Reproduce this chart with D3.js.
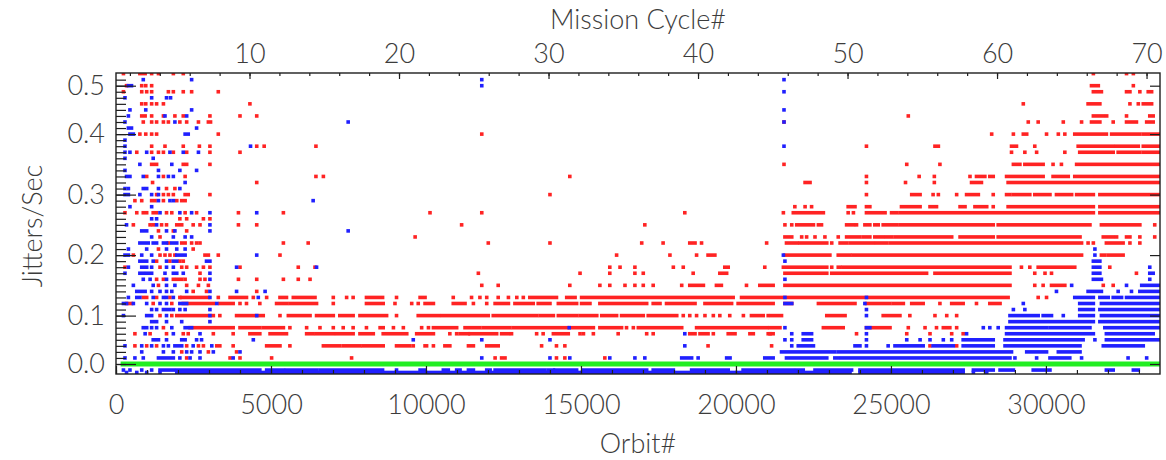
<!DOCTYPE html>
<html><head><meta charset="utf-8">
<script src="https://cdn.jsdelivr.net/npm/d3@7"></script>
<style>
html,body{margin:0;padding:0;background:#fff;}
svg text{font-family:Lato,"DejaVu Sans",sans-serif;font-weight:300;}
</style></head><body>
<svg id="chart" width="1166" height="460"></svg>
<script>
// ---------- axis tick data ----------
const orbitTicks=[0,5000,10000,15000,20000,25000,30000];
const cycleTicks=[10,20,30,40,50,60,70];
const jitterTicks=[0,0.1,0.2,0.3,0.4,0.5];
const jitterLabels=["0.0","0.1","0.2","0.3","0.4","0.5"];

// ---------- red series (jitter levels, single dots, dense runs) ----------
const redLevels=[0.525,0.50,0.4875,0.4625,0.4375,0.425,0.40,0.38,0.37,0.35,0.33,0.32,0.31,0.30,0.29,0.28,0.27,0.26,0.25,0.24,0.23,0.22,0.21,0.20,0.19,0.18,0.17,0.16,0.15,0.14,0.13,0.12,0.10,0.075,0.0625,0.0375,0.025,0.0125];
const redDots=[
 [240,1150,1370,1850,2170,31530,32600,32820],
 [340,830,960,1150,32820],
 [240,830,990,1150,1690,1850,2170,2440,3300,33030],
 [830,960,1150,1310,1530,4320,29270,32710,32980],
 [1150,1530,1900,2170,3030,4000,4540,25560,31960,32600],
 [880,1150,1310,1530,1690,2060,2280,2660,21550,29430,29750,30560,31150,32170],
 [770,960,1150,1310,3300,11800,28250,28950,30020,30400,30610],
 [1150,1580,2170,2690,3030,4540,4780,6450,24210,29640],
 [670,1150,1370,1530,1850,2280,3030,4000,28890,29320,29700,30610],
 [2170,2280,3030,21550,25510,26580,30230,30500],
 [990,1530,2230,6450,6690,14640,24210,25910,26400,27550],
 [1180,4540,24210,25470,26400],
 [1630,1900],
 [1310,1530,1690,1850,3030,14000,24210,26360,26530,27120,28300],
 [610,830,1530,1960],
 [21900,22230,22440,28300],
 [290,670,1630,1800,2230,2600,3950,5400,10130,11800,18350,21530,23620,23790],
 [2060,2280,2820,3030],
 [560,1100,1200,1470,1630,2490,2710,3950,4540,11150,17060,21580,21800,23890,33510],
 [1370,1850,2280],
 [1420,9650,22120,22280,22550,22870,23300,32280,33030,33510],
 [1690,2440,2600,2710,5400,6200,12010,14000,16960,17650,18890,20990,23090,31360,31530,32710,33030],
 [1370,2490],
 [560,1420,1580,1740,1900,3300,5290,16150,17870,18730],
 [1310,1740,2060,2170],
 [290,1420,2120,2280,2600,2820,3030,4000,5880,6420,15930,16260,16740,17980,18300,20930,23090,29210,29480,32060],
 [2710,11690,14970,15930,16740,17010,18620,29640,29970,30180,32920],
 [1310,1530,1850,2230,2710,2870,3950,4540,5400,5880,6260],
 [1370,2280,2660,2980,11800,12330,14640,15610,15930,16420,16740,17010,17330,18250,20340,29640,29910,31850,32170],
 [2490,2920,4540],
 [880,990,1310,1740,2060,3300,4430,4860,7010,7440,7650,9050,10880,11470,11740,11960,12330,12660,12930,13140,29750,30020],
 [1200,1800,4000,4210,4640,7010,9000,9540,9750,11530,11960,26580,27760],
 [1420,1800,3350,5290,9050,18300,18510,18730,19000,19270,19480,19800,20240,21040,25610,26420,26800,27120],
 [1530,5610,6150,6580,7010,7330,7650,8080,8950,9270,9860,10080,16470,16690,25560,26100,26470,27120],
 [610,1100,1630,2170,2330,3140,3780,10770,10990,12760,13570,13780,14970,15080,15400,16200,17120,17330,19270,21100,23890,25510,26260,26960,27330],
 [610,990,1310,2280,2660,2820,3780,5610,9590,10240,13730,14210,14480,19100,21150,26260,27120],
 [2120,2980,3890],
 [2280,3680,4000,5020,7600,12230,14210,14480,15770]
];
const redRuns=[
 [[770,940]],
 [[31470,31690]],
 [[31530,31790],[32600,32710],[33300,33410]],
 [[31360,31740],[33140,33410]],
 [[830,940],[31530,31850],[33350,33460]],
 [[2980,3050],[31470,31740],[32600,32920],[33250,33460]],
 [[29270,29380],[30930,31950],[32120,33030],[33140,33680]],
 [[26420,26530],[28890,29050],[31040,32170],[32280,32980],[33140,33680]],
 [[31090,32170],[32330,33030],[33140,33680]],
 [[1150,1310],[28950,29160],[29320,29910],[30990,33680]],
 [[27760,28030],[28190,28300],[28730,29910],[30230,30720],[30930,33680]],
 [[22230,22390],[27600,27920],[28780,33680]],
 [],
 [[2230,2330],[25670,25940],[27440,27820],[28730,28840],[28950,29480],[29640,30130],[30340,30830],[30990,31530],[31740,33680]],
 [[1150,1260],[2120,2230]],
 [[23620,23840],[24210,24320],[25340,25940],[26260,26470],[27230,27390],[27710,28090],[28780,31530],[31740,33680]],
 [[880,990],[1200,1310],[21850,22820],[24210,24810],[25020,25180],[25290,31530],[31740,33680]],
 [],
 [[1960,2120],[21960,22500],[22660,22760],[23570,23790],[24160,24320],[24480,24590],[24750,25180],[25290,28300],[28460,31420],[31790,33030]],
 [],
 [[21580,21800],[23570,24000],[24110,24320],[24480,24750],[24860,25020],[25130,26960],[27230,28300],[28460,31100],[31850,32170],[32600,32710]],
 [[2120,2230],[18510,18680],[21630,21960],[22060,22930],[23360,23570],[23680,24430],[24540,24860],[24970,31150],[31950,32490]],
 [],
 [[2870,2980],[19100,19320],[21580,23030],[23300,23680],[23780,31150],[31790,31900],[32010,32490]],
 [],
 [[19640,19750],[21530,22930],[23300,23360],[23460,28840],[29750,30930]],
 [[19480,19700],[21580,22930],[23090,26150],[26420,28840]],
 [[1960,2120]],
 [[18510,18950],[19370,19530],[20770,21200],[21580,28840],[30180,30610]],
 [],
 [[2120,2980],[3680,4210],[5290,5500],[5720,6420],[8080,8600],[9810,9970],[13350,14210],[14540,14810],[15020,19910],[20180,28780]],
 [[340,500],[2170,3140],[3350,3780],[5180,5500],[5610,6470],[8080,8620],[9970,10240],[10880,11260],[12230,12660],[12870,13460],[13620,14000],[14270,14860],[15020,15290],[15610,17120],[17330,17550],[17760,18680],[19000,19860],[20070,21200],[21580,21800],[22660,23840],[24210,24970],[25080,25400],[25670,26040],[26960,27330],[28190,28520]],
 [[1960,3140],[3890,4750],[5560,6260],[6470,7010],[7220,7650],[7870,8730],[9750,10400],[10510,12010],[12170,13570],[13680,14110],[14270,14860],[14970,15510],[15670,16150],[16310,17010],[17170,18090],[20500,20880],[21150,21470],[22930,23520],[24750,25290]],
 [[2390,3140],[3250,3780],[4000,4640],[4750,5400],[8520,8620],[10240,10990],[11260,11740],[11850,12710],[12820,14540],[14640,15400],[15610,16310],[16850,18250],[18730,20990],[21090,21420],[22820,23460],[24210,24970],[26690,26900]],
 [[4320,4640],[4970,5500],[6150,6360],[6470,7010],[7120,7650],[7870,8300],[8620,9380],[9700,10240],[11100,11370],[11420,12280],[12440,12660],[14110,14590],[18510,18680],[18840,19100],[19750,19970],[20450,20560],[21040,21200]],
 [[3250,3350],[4860,5290],[6690,7220],[7330,7870],[7970,8620],[9050,9480],[9970,10020],[10610,10770],[11370,11530],[11960,12330]],
 [],
 [[12440,12550]]
];

// ---------- blue series ----------
const blueLevels=[0.5125,0.50,0.4875,0.475,0.45,0.4375,0.425,0.4125,0.40,0.39,0.38,0.37,0.36,0.35,0.34,0.33,0.32,0.31,0.30,0.29,0.28,0.27,0.26,0.25,0.24,0.23,0.22,0.21,0.20,0.19,0.18,0.17,0.16,0.15,0.14,0.13,0.12,0.11,0.10,0.0875,0.075,0.0625,0.05,0.0375,0.025,0.0125,-0.0125,-0.0175];
const blueDots=[
 [880,2440,11800,21550],
 [11800],
 [21550],
 [290,1150,1630,1760],
 [450,960,2440,21550],
 [400,1580,2280],
 [290,1900,7490,21550],
 [2600],
 [],
 [290],
 [290,4340,21550],
 [290,450,990,1740,2170,2660],
 [290,1200],
 [770,1800],
 [290,1370,2060,2600],
 [880,1370,1690,1850],
 [2230],
 [290,400,880,990,1370,2060],
 [770,1150,1370],
 [1370,1740,1850,6360],
 [450,1150],
 [1420,2060,2440,3030,4540],
 [1150,1310],
 [340,1310,3030],
 [1630,1900,3030,7490],
 [1150,1850,2230,2440],
 [],
 [400,990,1630,1960,2230,31580],
 [830,1150,4540,21530,31580],
 [1200,1630,21580],
 [400,1150,1630,1850,3890,6470,33350],
 [290,1580,2170,3030],
 [880,1100,1630,3030,21580,33350],
 [560,1200,1630,1900,30830,32600],
 [1150,1420,1630,1800,2280,3030,3890,4810,30340,32330,32760],
 [400,1200,1530,1630,1850,3030,4590,21580,24210],
 [560,990,1420,1630,3250,24160,29270],
 [1150,1310,1850,2060,2230,3030,24210,28950,29320],
 [240,1630,3030,4540,24210,30560],
 [1630,2120,3030],
 [880,990,1150,1310,1800,14620,21580,27980,28190,28460],
 [940,1850,2710,18350,21800,24210,27440],
 [1630,2600,2760,4430,9590,11800,14000,21580,21800,24210,25510,25940,26260,26690,26960,31580],
 [290,830,1150,1530,1690,2490,3090,18350,21800,24210,24910],
 [830,1530,1850,2280,2440,2710,3140,4000],
 [290,610,880,2060,2390,2710,3780,11800,14000,14640,15930,16740,17060,18780,29000,29700,31150,32650,33250],
 [240,450,830,1150,9050],
 [340,670,990,1420,27660,28090]
];
const blueRuns=[
 [],
 [[400,500]],
 [],[],[],[],[],
 [[400,500]],
 [[450,560],[2230,2330]],
 [],[],[],[],[],[],
 [[340,450]],
 [],[],
 [[290,400]],
 [],[],[],[],[],
 [[830,990]],
 [],
 [[770,1040],[1200,1310],[1530,1630],[1800,1960]],
 [],
 [[290,400],[1960,2230]],
 [[770,990],[1850,1960],[2920,3030],[31530,31740]],
 [[830,990],[31530,31740]],
 [[770,880],[990,1150],[1850,1960],[31530,31740],[33350,33460]],
 [[31530,31790]],
 [[33090,33680]],
 [[670,940],[31360,31790],[33030,33680]],
 [[670,770],[30930,31530],[31740,32010],[32170,32440],[32600,33680]],
 [[240,340],[2060,2280],[21580,21800],[31090,31530],[31790,33680]],
 [[1530,1740],[31090,31530],[31740,33680]],
 [[990,1150],[28840,29750],[29910,30180],[31090,31530],[31790,33680]],
 [[1150,1310],[28840,31530],[31740,33680]],
 [[2230,2440],[24210,24320],[28730,30020],[30130,31420],[31900,33680]],
 [[22170,22440],[28730,31530],[31950,33460]],
 [[1200,1370],[2120,2230],[22170,22440],[27330,28300],[28680,31200],[31950,33680]],
 [[1900,2120],[22010,22500],[23840,24000],[25130,26040],[26360,27010],[27330,28300],[28680,31100],[31850,33140]],
 [[21470,23190],[23300,28890],[29380,30020],[30400,31100]],
 [[1370,1850],[18250,18570],[19700,19810],[20930,21200],[21630,22930],[23190,23300],[23410,28840],[30130,30770]],
 [[1420,1850],[1960,4640],[4860,5400],[5500,6470],[6580,8600],[9810,9970],[10560,10720],[10990,11100],[11370,11530],[11960,12070],[12230,13840],[13950,14110],[14160,14860],[15070,17120],[17330,17980],[18570,19750],[20230,21850],[21960,22170],[22550,23730],[24000,27330],[27660,28300],[28520,28950],[29590,30130],[31950,32170],[32820,32980]],
 [[1960,23680],[24000,27330]]
];

// ---------- green series ----------
const greenLevels=[0];
const greenRuns=[[[230,33680]]];

// ---------- layout ----------
const L=116,R=1160,T=73,B=374;
const x=d3.scaleLinear().domain([0,33680]).range([L,R]);
const xTop=d3.scaleLinear().domain([1.07,70.9]).range([L,R]);
const y=d3.scaleLinear().domain([0,0.1,0.4,0.5]).range([364,315.6,134.1,85.7]);

const svg=d3.select("#chart");
svg.append("rect").attr("width",1166).attr("height",460).attr("fill","#fff");
svg.append("defs").append("clipPath").attr("id","plot").append("rect")
  .attr("x",L).attr("y",T).attr("width",R-L).attr("height",B-T);
const g=svg.append("g").attr("clip-path","url(#plot)");

function drawSeries(levels,dots,runs,color,size){
  const pts=[],segs=[];
  levels.forEach((v,i)=>{
    (dots[i]||[]).forEach(o=>pts.push([o,v]));
    (runs[i]||[]).forEach(r=>segs.push([r[0],r[1],v]));
  });
  const layer=g.append("g").attr("fill",color);
  layer.selectAll("rect.run").data(segs).join("rect").attr("class","run")
    .attr("x",d=>x(d[0])-size/2).attr("y",d=>y(d[2])-size/2)
    .attr("width",d=>x(d[1])-x(d[0])+size).attr("height",size);
  layer.selectAll("rect.dot").data(pts).join("rect").attr("class","dot")
    .attr("x",d=>x(d[0])-size/2).attr("y",d=>y(d[1])-size/2)
    .attr("width",size).attr("height",size);
}
drawSeries(redLevels,redDots,redRuns,"#ff2323",3.6);
drawSeries(blueLevels,blueDots,blueRuns,"#2020ff",3.6);
drawSeries(greenLevels,[[]],greenRuns,"#22ee22",5);

// ---------- axes ----------
const ink="#1e1e1e", txt="#3c3c3c", fs="27px";
function style(sel){
  sel.attr("font-family",null).attr("font-size",null);
  sel.selectAll(".tick line").attr("stroke",ink).attr("stroke-width",1.2);
  sel.selectAll(".tick text").attr("fill",txt).style("font-size",fs);
}
const orbitMinor=d3.range(0,33680,1000);
const cycleMinor=d3.range(2,71,2);
const jitterMinor=[...d3.range(0,0.0999,0.0125),...d3.range(0.1,0.3999,0.01),...d3.range(0.4,0.52,0.0125)];

svg.append("g").attr("transform",`translate(0,${B})`)
  .call(d3.axisBottom(x).tickValues(orbitMinor).tickSize(-4).tickSizeOuter(0).tickFormat("")).call(style);
svg.append("g").attr("transform",`translate(0,${B})`)
  .call(d3.axisBottom(x).tickValues(orbitTicks).tickSize(-8).tickSizeOuter(0).tickPadding(21).tickFormat(d3.format("d"))).call(style);
svg.append("g").attr("transform",`translate(0,${T})`)
  .call(d3.axisTop(xTop).tickValues(cycleMinor).tickSize(-3).tickSizeOuter(0).tickFormat("")).call(style);
svg.append("g").attr("transform",`translate(0,${T})`)
  .call(d3.axisTop(xTop).tickValues(cycleTicks).tickSize(-6).tickSizeOuter(0).tickPadding(10).tickFormat(d3.format("d"))).call(style);
svg.append("g").attr("transform",`translate(${L},0)`)
  .call(d3.axisLeft(y).tickValues(jitterMinor).tickSize(-10).tickSizeOuter(0).tickFormat("")).call(style);
svg.append("g").attr("transform",`translate(${L},0)`)
  .call(d3.axisLeft(y).tickValues(jitterTicks).tickSize(-20).tickSizeOuter(0).tickPadding(11).tickFormat((d,i)=>jitterLabels[i])).call(style);
svg.append("g").attr("transform",`translate(${R},0)`)
  .call(d3.axisRight(y).tickValues(jitterTicks).tickSize(-10).tickSizeOuter(0).tickFormat("")).call(style);
svg.selectAll(".domain").remove();
svg.append("rect").attr("x",L).attr("y",T).attr("width",R-L).attr("height",B-T)
  .attr("fill","none").attr("stroke",ink).attr("stroke-width",1.4);

// ---------- titles ----------
svg.append("text").attr("x",638).attr("y",453).attr("text-anchor","middle")
  .attr("fill",txt).style("font-size",fs).text("Orbit#");
svg.append("text").attr("x",638).attr("y",29).attr("text-anchor","middle")
  .attr("fill",txt).style("font-size",fs).text("Mission Cycle#");
svg.append("text").attr("transform","translate(42,226) rotate(-90)").attr("text-anchor","middle")
  .attr("fill",txt).style("font-size",fs).text("Jitters/Sec");
</script>
</body></html>
